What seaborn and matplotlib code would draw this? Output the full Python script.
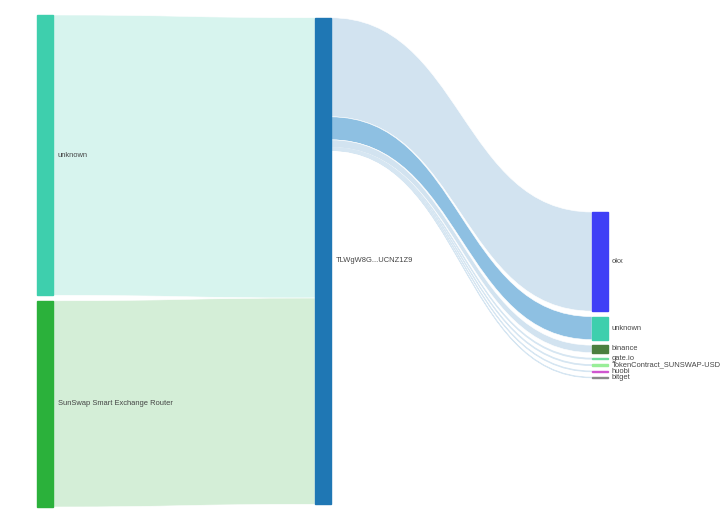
import numpy as np
import matplotlib
matplotlib.use("Agg")
import matplotlib.pyplot as plt
import seaborn as sns
from matplotlib.path import Path
from matplotlib.patches import PathPatch, Rectangle

# sources -> hub
in_labels = ["unknown", "SunSwap Smart Exchange Router"]
in_values = [280.0, 206.0]
in_node_colors = ["#3ecfad", "#2bb13b"]
in_link_colors = ["#d7f4ee", "#d4eed7"]

hub_label = "TLWgW8G...UCNZ1Z9"
hub_color = "#1f77b4"

# hub -> destinations
out_labels = ["okx", "unknown", "binance", "gate.io",
              "TokenContract_SUNSWAP-USD", "huobi", "bitget"]
out_values = [99.0, 23.0, 7.5, 1.0, 0.9, 0.7, 0.5]
out_node_colors = ["#3f3ff6", "#3ecfad", "#4b7f3f", "#6fdc9c",
                   "#98ee98", "#cf55cf", "#8a8a8a"]
out_link_colors = ["#d2e3f0", "#8ec0e2", "#d2e3f0", "#d6e6f2",
                   "#d6e6f2", "#d6e6f2", "#d6e6f2"]

sns.set_style("white")
plt.rcParams["font.family"] = ["Liberation Sans", "DejaVu Sans"]

fig = plt.figure(figsize=(7.2, 5.25), dpi=100)
ax = fig.add_axes([0, 0, 1, 1])
ax.set_xlim(0, 720)
ax.set_ylim(525, 0)
ax.axis("off")

# layout
col_x = [37, 315, 592]
node_w = 15.5
top, bottom = 15, 507
pad = 5.5
scale = (bottom - top - pad * (len(in_values) - 1)) / sum(in_values)
right_top = 212
text_kw = dict(fontsize=5.45, color="#444444", va="center", ha="left")


def stack(values, y0):
    spans = []
    y = y0
    for v in values:
        h = v * scale
        spans.append((y, y + h))
        y += h + pad
    return spans


def band(xa, a0, a1, xb, b0, b1, color, thin=False):
    xm = (xa + xb) / 2
    verts = [(xa, a0), (xm, a0), (xm, b0), (xb, b0), (xb, b1),
             (xm, b1), (xm, a1), (xa, a1), (xa, a0)]
    codes = [Path.MOVETO, Path.CURVE4, Path.CURVE4, Path.CURVE4, Path.LINETO,
             Path.CURVE4, Path.CURVE4, Path.CURVE4, Path.CLOSEPOLY]
    ec = color if thin else "white"
    lw = 0.6 if thin else 0.4
    ax.add_patch(PathPatch(Path(verts, codes), facecolor=color,
                           edgecolor=ec, lw=lw, zorder=1))


left_spans = stack(in_values, top)
hub_h = sum(in_values) * scale
hub_top = (top + bottom) / 2 - hub_h / 2
right_spans = stack(out_values, right_top)

# links into hub
y = hub_top
for (a0, a1), v, c in zip(left_spans, in_values, in_link_colors):
    h = v * scale
    band(col_x[0] + node_w, a0, a1, col_x[1], y, y + h, c)
    y += h

# links out of hub
y = hub_top
for (b0, b1), v, c in zip(right_spans, out_values, out_link_colors):
    h = v * scale
    band(col_x[1] + node_w, y, y + h, col_x[2], b0, b1, c, thin=h < 2)
    y += h

# nodes
for (a0, a1), lab, c in zip(left_spans, in_labels, in_node_colors):
    ax.add_patch(Rectangle((col_x[0], a0), node_w, a1 - a0, color=c, zorder=2))
    ax.text(col_x[0] + node_w + 5.5, (a0 + a1) / 2, lab, **text_kw)

ax.add_patch(Rectangle((col_x[1], hub_top), node_w, hub_h, color=hub_color, zorder=2))
ax.text(col_x[1] + node_w + 5, hub_top + hub_h / 2, hub_label, **text_kw)

for (b0, b1), lab, c in zip(right_spans, out_labels, out_node_colors):
    h = max(b1 - b0, 1.2)
    mid = (b0 + b1) / 2
    ax.add_patch(Rectangle((col_x[2], mid - h / 2), node_w, h, color=c, zorder=2))
    ax.text(col_x[2] + node_w + 4, mid, lab, **text_kw)

fig.savefig("out.png", dpi=100)
